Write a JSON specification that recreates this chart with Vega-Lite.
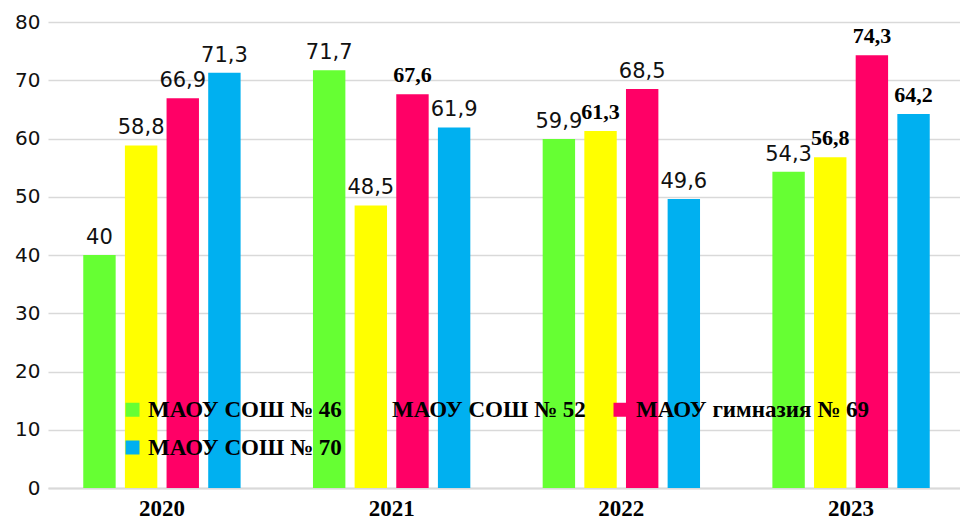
{
  "$schema": "https://vega.github.io/schema/vega-lite/v6.json",
  "width": 912,
  "height": 466,
  "autosize": {"type": "none"},
  "padding": {"left": 48, "top": 22, "right": 0, "bottom": 30},
  "background": "white",
  "config": {
    "locale": {"number": {"decimal": ",", "thousands": " ", "grouping": [3], "currency": ["", ""]}},
    "view": {"stroke": null}
  },
  "data": {
    "values": [
      {"year": "2020", "school": "МАОУ СОШ № 46", "value": 40},
      {"year": "2020", "school": "МАОУ СОШ № 52", "value": 58.8},
      {"year": "2020", "school": "МАОУ гимназия № 69", "value": 66.9},
      {"year": "2020", "school": "МАОУ СОШ № 70", "value": 71.3},
      {"year": "2021", "school": "МАОУ СОШ № 46", "value": 71.7},
      {"year": "2021", "school": "МАОУ СОШ № 52", "value": 48.5},
      {"year": "2021", "school": "МАОУ гимназия № 69", "value": 67.6},
      {"year": "2021", "school": "МАОУ СОШ № 70", "value": 61.9},
      {"year": "2022", "school": "МАОУ СОШ № 46", "value": 59.9},
      {"year": "2022", "school": "МАОУ СОШ № 52", "value": 61.3},
      {"year": "2022", "school": "МАОУ гимназия № 69", "value": 68.5},
      {"year": "2022", "school": "МАОУ СОШ № 70", "value": 49.6},
      {"year": "2023", "school": "МАОУ СОШ № 46", "value": 54.3},
      {"year": "2023", "school": "МАОУ СОШ № 52", "value": 56.8},
      {"year": "2023", "school": "МАОУ гимназия № 69", "value": 74.3},
      {"year": "2023", "school": "МАОУ СОШ № 70", "value": 64.2}
    ]
  },
  "encoding": {
    "x": {
      "field": "year",
      "type": "nominal",
      "scale": {"range": [0, 917], "paddingInner": 0.315, "paddingOuter": 0.1535},
      "axis": {
        "title": null,
        "labelAngle": 0,
        "ticks": false,
        "domain": true,
        "domainColor": "#d9d9d9",
        "domainWidth": 2,
        "labelFont": "Liberation Serif",
        "labelFontWeight": "bold",
        "labelFontSize": 23,
        "labelColor": "#000000",
        "labelPadding": 9
      }
    },
    "xOffset": {
      "field": "school",
      "type": "nominal",
      "scale": {
        "domain": ["МАОУ СОШ № 46", "МАОУ СОШ № 52", "МАОУ гимназия № 69", "МАОУ СОШ № 70"],
        "paddingInner": 0.222,
        "paddingOuter": 0
      }
    },
    "y": {
      "field": "value",
      "type": "quantitative",
      "scale": {"domain": [0, 80], "nice": false},
      "axis": {
        "title": null,
        "values": [0, 10, 20, 30, 40, 50, 60, 70, 80],
        "domain": false,
        "ticks": false,
        "labelFont": "DejaVu Sans",
        "labelFontSize": 20,
        "labelColor": "#111111",
        "labelPadding": 8,
        "gridColor": "#d9d9d9",
        "gridWidth": 1.5
      }
    }
  },
  "layer": [
    {
      "mark": {"type": "bar"},
      "encoding": {
        "color": {
          "field": "school",
          "type": "nominal",
          "scale": {
            "domain": ["МАОУ СОШ № 46", "МАОУ СОШ № 52", "МАОУ гимназия № 69", "МАОУ СОШ № 70"],
            "range": ["#66FF33", "#FFFF00", "#FF0066", "#00B0F0"]
          },
          "legend": {
            "title": null,
            "orient": "none",
            "legendX": 73,
            "legendY": 376,
            "direction": "horizontal",
            "columns": 3,
            "columnPadding": 23,
            "rowPadding": 14,
            "padding": 0,
            "symbolType": "square",
            "symbolSize": 196,
            "symbolStrokeWidth": 0,
            "symbolOpacity": 1,
            "labelFont": "Liberation Serif",
            "labelFontWeight": "bold",
            "labelFontSize": 23,
            "labelColor": "#000000",
            "labelOffset": 4,
            "labelLimit": 0,
            "zindex": 1
          }
        }
      }
    },
    {
      "transform": [
        {"filter": "!((datum.year=='2021' && datum.school=='МАОУ гимназия № 69') || (datum.year=='2022' && datum.school=='МАОУ СОШ № 52') || (datum.year=='2023' && datum.school!='МАОУ СОШ № 46'))"}
      ],
      "mark": {
        "type": "text",
        "font": "DejaVu Sans",
        "fontSize": 21,
        "color": "#111111",
        "baseline": "alphabetic",
        "dy": -11
      },
      "encoding": {
        "text": {"field": "value", "type": "quantitative", "format": ".1~f"}
      }
    },
    {
      "transform": [
        {"filter": "(datum.year=='2021' && datum.school=='МАОУ гимназия № 69') || (datum.year=='2022' && datum.school=='МАОУ СОШ № 52') || (datum.year=='2023' && datum.school!='МАОУ СОШ № 46')"}
      ],
      "mark": {
        "type": "text",
        "font": "Liberation Serif",
        "fontWeight": "bold",
        "fontSize": 22,
        "color": "#000000",
        "baseline": "alphabetic",
        "dy": -12
      },
      "encoding": {
        "text": {"field": "value", "type": "quantitative", "format": ".1~f"}
      }
    }
  ]
}
